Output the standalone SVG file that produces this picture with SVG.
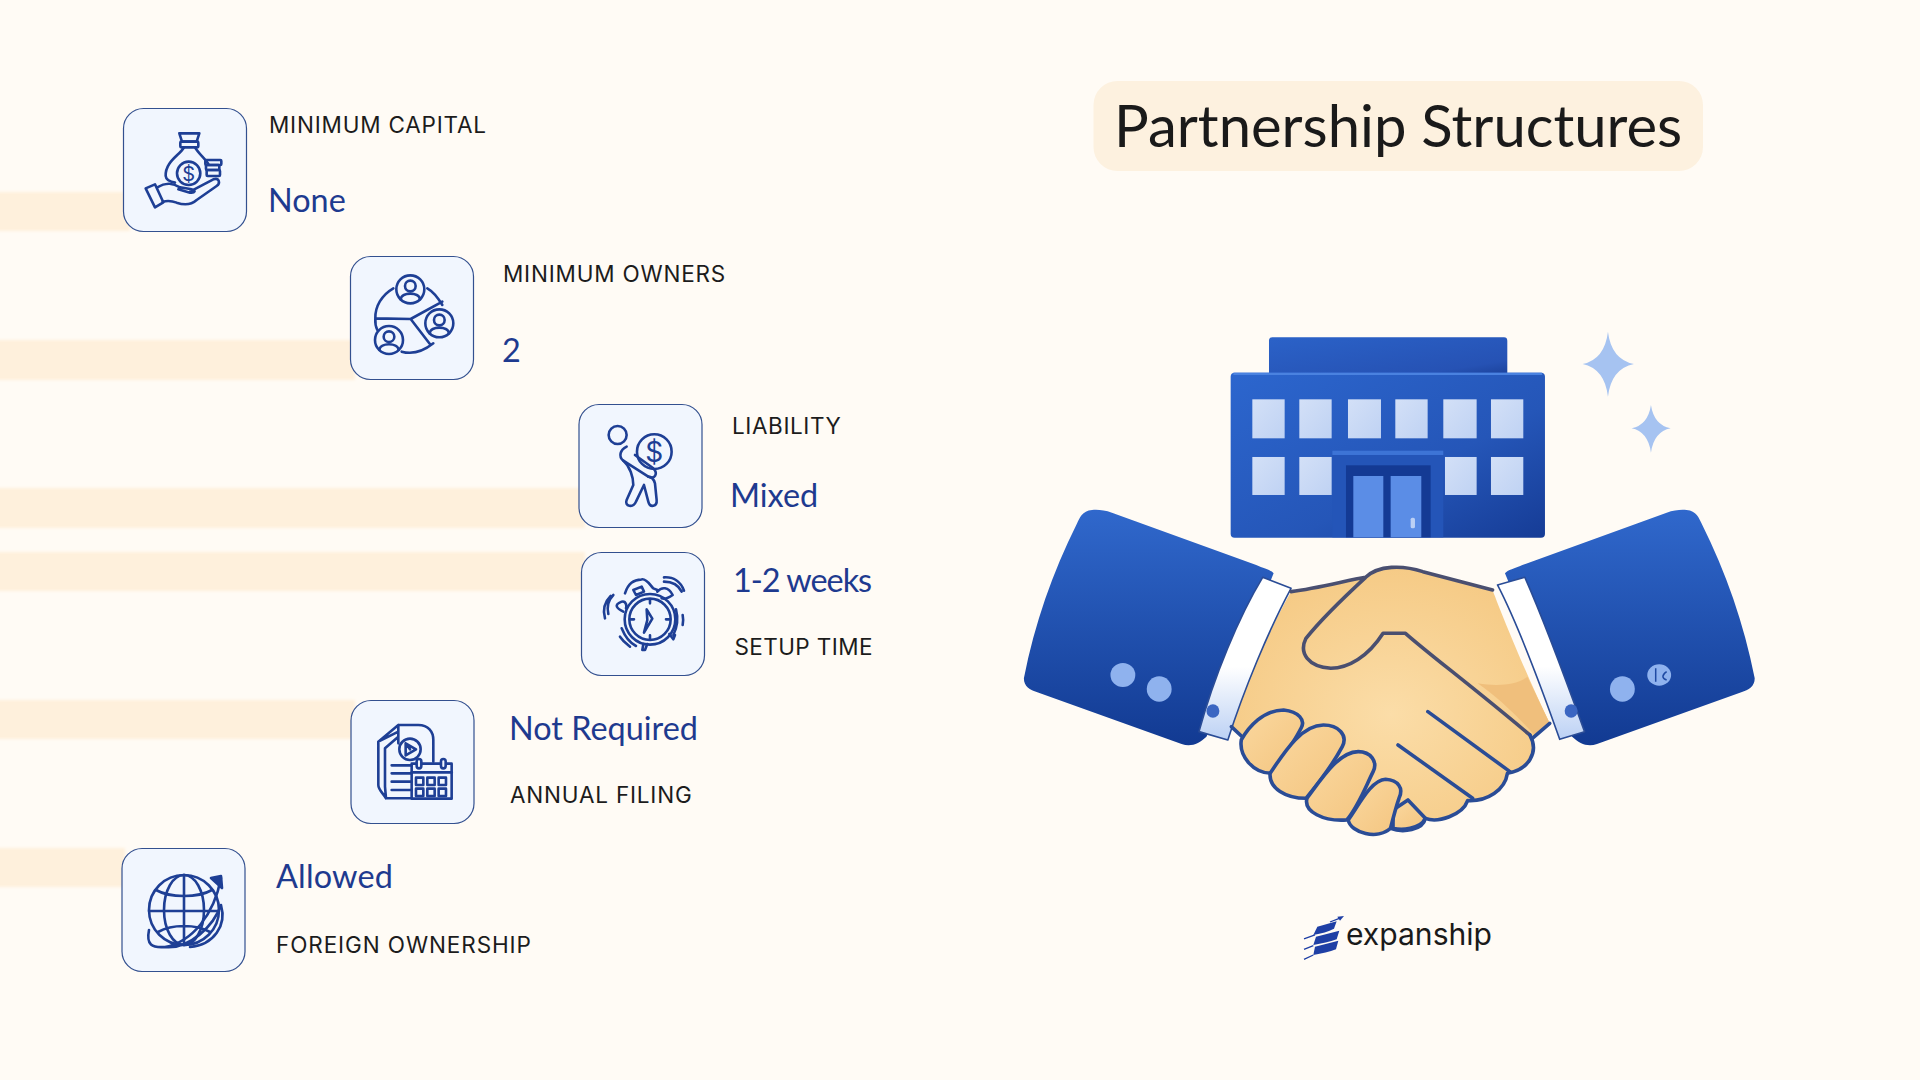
<svg xmlns="http://www.w3.org/2000/svg" width="1920" height="1080" viewBox="0 0 1920 1080">
<style>
.card{fill:#F1F6FE;stroke:#33508F;stroke-width:1.2}
.band{fill:#FEF0DC}
.lab{font-family:"Inter","Liberation Sans",sans-serif;font-size:22.5px;letter-spacing:.8px;fill:#1C1C1C}
.val{font-family:"Lato","Noto Sans",sans-serif;font-size:32.4px;fill:#1E3A8F}
.ic{fill:none;stroke:#1E3F95;stroke-width:2.6;stroke-linecap:round;stroke-linejoin:round}
.ic *{vector-effect:non-scaling-stroke}
.dol{font-family:"Inter","Liberation Sans",sans-serif;fill:#1E3F95;stroke:none}
.hs *{vector-effect:non-scaling-stroke}
.ln{fill:none;stroke:#4A4F70;stroke-width:3.6;stroke-linecap:round;stroke-linejoin:round}
.lb{fill:none;stroke:#2A4C96;stroke-width:3.6;stroke-linecap:round;stroke-linejoin:round}
.fg{fill:url(#finger);stroke:#2A4C96;stroke-width:3.6;stroke-linejoin:round}
.cf{fill:url(#cuff);stroke:#2A4C96;stroke-width:1.6;stroke-linejoin:round}
.win{fill:url(#win)}
.door{fill:#5B8DE6}
.star{fill:#A6C3F1}
.btn{fill:#8FB2EE}
.mark{fill:#1F3FA5}
</style>
<defs>
<linearGradient id="sleeve" x1="0" y1="0" x2="0" y2="1"><stop offset="0" stop-color="#3068CC"/><stop offset="1" stop-color="#123A92"/></linearGradient>
<linearGradient id="cuff" x1="0" y1="0" x2="0" y2="1"><stop offset="0" stop-color="#FFFFFF"/><stop offset=".55" stop-color="#FFFFFF"/><stop offset="1" stop-color="#BCD1F4"/></linearGradient>
<radialGradient id="skin" cx=".5" cy=".55" r=".6"><stop offset="0" stop-color="#FBDDA8"/><stop offset="1" stop-color="#F5C983"/></radialGradient>
<linearGradient id="finger" x1="0" y1="0" x2="1" y2="1"><stop offset="0" stop-color="#FAD89F"/><stop offset="1" stop-color="#F4C580"/></linearGradient>
<linearGradient id="bldg" x1="0" y1="0" x2="1" y2="1"><stop offset="0" stop-color="#2C66CE"/><stop offset=".6" stop-color="#2556B8"/><stop offset="1" stop-color="#163C96"/></linearGradient>
<linearGradient id="roof" x1="0" y1="0" x2="1" y2="1"><stop offset="0" stop-color="#2B62C8"/><stop offset=".8" stop-color="#2652B4"/><stop offset="1" stop-color="#1B4199"/></linearGradient>
<linearGradient id="win" x1="0" y1="0" x2="1" y2="1"><stop offset="0" stop-color="#D3E0F7"/><stop offset="1" stop-color="#BFD2F3"/></linearGradient>
<filter id="soft" x="-5%" y="-20%" width="110%" height="140%"><feGaussianBlur stdDeviation="1.5"/></filter>
</defs>
<rect width="1920" height="1080" fill="#FFFBF5"/>

<g id="bands" filter="url(#soft)">
<rect class="band" x="-5" y="192" width="135" height="39"/>
<rect class="band" x="-5" y="340" width="360" height="40"/>
<rect class="band" x="-5" y="488" width="590" height="40"/>
<rect class="band" x="-5" y="552" width="590" height="39"/>
<rect class="band" x="-5" y="700" width="360" height="39"/>
<rect class="band" x="-5" y="848" width="130" height="39"/>
</g>

<g id="title">
<rect x="1093.500" y="81" width="609.500" height="90" rx="24" fill="#FDF1DF"/>
<text x="1114" y="147" font-family="Lato,'Noto Sans',sans-serif" font-size="58" fill="#1A1A1A">Partnership Structures</text>
</g>

<g id="node-capital">
<rect class="card" x="123.500" y="108.500" width="123" height="123" rx="20"/>
<g class="ic" transform="translate(100 90) scale(.3333)">
<path d="M238 130H298L290 155H246Z"/><rect x="241" y="155" width="54" height="17" rx="3"/>
<path d="M252 172C240 195 195 215 197 258C198 268 205 275 225 278M285 172C295 190 315 205 325 222"/>
<circle cx="266" cy="250" r="35"/>
<rect x="316" y="210" width="48" height="15" rx="3"/><rect x="318" y="225" width="40" height="15" rx="3"/><rect x="320" y="240" width="40" height="18" rx="3"/>
<path d="M137 295L165 283L190 337L165 352Z"/>
<path d="M172 292C200 275 220 280 240 292L275 298C290 300 285 310 270 308L235 298M270 305L340 268C358 262 362 280 350 288L290 330C270 348 250 345 230 338C215 332 200 332 188 335"/>
<text class="dol" x="266" y="272" font-size="60" text-anchor="middle">$</text>
</g>
<text class="lab" x="269" y="133">MINIMUM CAPITAL</text>
<text class="val" x="268" y="212">None</text>
</g>

<g id="node-owners">
<rect class="card" x="350.500" y="256.500" width="123" height="123" rx="20"/>
<g class="ic" transform="translate(340 250) scale(.3333)">
<circle cx="211" cy="118" r="42"/><circle cx="298" cy="220" r="42"/><circle cx="147" cy="270" r="42"/>
<circle cx="211" cy="108" r="16"/><path d="M182 148C185 125 237 125 240 148"/>
<circle cx="298" cy="210" r="16"/><path d="M269 250C272 227 324 227 327 250"/>
<circle cx="147" cy="260" r="16"/><path d="M118 300C121 277 173 277 176 300"/>
<path d="M160 115C125 135 105 170 106 205C105 222 108 232 112 240M185 305C220 315 255 300 280 280M262 115C280 125 295 145 307 165M106 205L212 207L307 155M212 207L272 285"/>
</g>
<text class="lab" x="503" y="282">MINIMUM OWNERS</text>
<text class="val" x="502" y="362">2</text>
</g>

<g id="node-liability">
<rect class="card" x="579" y="404.500" width="123" height="123" rx="20"/>
<g class="ic" transform="translate(340 250) scale(.3333)">
<circle cx="833" cy="555" r="27"/><circle cx="943" cy="605" r="52"/>
<path d="M860 590C840 600 835 620 850 632L925 680C945 690 955 670 940 655L885 615"/>
<path d="M850 632C870 650 880 680 880 705L860 750C852 770 880 775 888 755L912 705L925 755C930 775 952 770 950 750L945 700C942 690 935 680 925 680"/>
<text class="dol" x="943" y="636" font-size="84" text-anchor="middle">$</text>
</g>
<text class="lab" x="732" y="434" style="letter-spacing:.6px">LIABILITY</text>
<text class="val" x="730" y="507">Mixed</text>
</g>

<g id="node-setup">
<rect class="card" x="581.500" y="552.500" width="123" height="123" rx="20"/>
<g class="ic" transform="translate(570 540) scale(.3333)">
<circle cx="240" cy="238" r="76"/><circle cx="240" cy="238" r="62"/>
<path d="M230 208L247 236L222 278L232 240ZM240 180V190M240 286V296M298 238H288M182 238H192"/>
<path d="M160 215C140 205 130 195 155 185C170 182 170 200 168 205M165 160C175 130 190 120 215 118C230 115 240 135 250 145L262 150M190 150L215 140L222 155L198 165ZM262 155C275 140 295 140 308 165C298 172 285 178 275 175"/>
<path d="M282 125C305 125 325 135 335 155M282 112C310 110 332 125 342 152M130 165C115 180 110 200 115 222M122 168C105 185 98 210 105 235M155 265C165 290 178 308 198 318M150 290C160 305 170 312 180 320M318 208C325 235 320 265 310 285M338 225C340 235 340 245 338 255"/>
<path d="M220 312L217 330H225L232 312M298 282L310 298L315 285"/>
</g>
<text class="val" x="733" y="592" style="letter-spacing:-1px">1-2 weeks</text>
<text class="lab" x="734.500" y="655" style="letter-spacing:.4px">SETUP TIME</text>
</g>

<g id="node-filing">
<rect class="card" x="351" y="700.500" width="123" height="123" rx="20"/>
<g class="ic" transform="translate(340 690) scale(.3333)">
<path d="M175 105H235C265 105 280 125 280 150V215M175 105L115 155V285C115 300 130 310 138 325H215M175 105V160M115 155L175 125M138 325L135 290V175L175 140"/>
<circle cx="210" cy="178" r="32"/><path d="M197 160L228 178L197 196ZM210 178L197 160"/>
<path d="M155 226H215M155 250H215M155 275H215M155 300H215"/>
<rect x="215" y="221" width="120" height="105"/>
<path d="M215 247H335"/>
<rect x="230" y="207" width="14" height="28" rx="7" fill="#F1F6FE"/><rect x="303" y="207" width="14" height="28" rx="7" fill="#F1F6FE"/>
<rect x="228" y="263" width="22" height="22"/><rect x="262" y="263" width="22" height="22"/><rect x="296" y="263" width="22" height="22"/>
<rect x="228" y="296" width="22" height="22"/><rect x="262" y="296" width="22" height="22"/><rect x="296" y="296" width="22" height="22"/>
</g>
<text class="val" x="509" y="740">Not Required</text>
<text class="lab" x="510" y="803">ANNUAL FILING</text>
</g>

<g id="node-foreign">
<rect class="card" x="122" y="848.500" width="123" height="123" rx="20"/>
<g class="ic">
<circle cx="184" cy="910" r="35"/>
<ellipse cx="184" cy="910" rx="20" ry="35"/>
<path d="M184 875V945M149 911H219M156 890C170 898 198 898 212 890M158 932C172 924 196 924 210 932"/>
<path d="M149 930C146 945 152 948 165 947C192 942 214 915 221 878M221 905C227 925 214 945 190 947M164 947C190 950 214 925 221 905"/>
<path d="M221 876L211 878L222 888Z" fill="#1E3F95"/>
</g>
<text class="val" x="276" y="888" style="letter-spacing:.2px">Allowed</text>
<text class="lab" x="276" y="953" style="letter-spacing:.9px">FOREIGN OWNERSHIP</text>
</g>

<g id="building" transform="translate(1200 320) scale(.3333)">
<rect x="207" y="52" width="715" height="115" rx="10" fill="url(#roof)"/>
<rect x="92" y="158" width="943" height="495" rx="12" fill="url(#bldg)"/>
<rect x="100" y="158" width="927" height="7" fill="#4A82E0"/>
<rect class="win" x="157" y="238" width="97" height="117"/><rect class="win" x="298" y="238" width="97" height="117"/><rect class="win" x="444" y="238" width="99" height="117"/><rect class="win" x="586" y="238" width="97" height="117"/><rect class="win" x="730" y="238" width="100" height="117"/><rect class="win" x="873" y="238" width="97" height="117"/>
<rect class="win" x="157" y="411" width="97" height="114"/><rect class="win" x="298" y="411" width="97" height="114"/><rect class="win" x="735" y="411" width="95" height="114"/><rect class="win" x="873" y="411" width="97" height="114"/>
<rect x="397" y="392" width="333" height="260" fill="#2455B8"/>
<rect x="397" y="392" width="333" height="13" fill="#3D74D6"/>
<rect x="438" y="436" width="254" height="216" fill="#143A94"/>
<rect class="door" x="460" y="468" width="90" height="184"/><rect class="door" x="572" y="468" width="92" height="184"/>
<rect x="632" y="593" width="13" height="32" rx="5" fill="#BBD0F5"/>
</g>

<g id="sparkles" transform="translate(1200 320) scale(.3333)">
<path class="star" d="M1224 35Q1234 118 1302 132Q1234 146 1224 230Q1214 146 1148 132Q1214 118 1224 35Z"/>
<path class="star" d="M1353 255Q1362 315 1412 325Q1362 335 1353 398Q1344 335 1295 325Q1344 315 1353 255Z"/>
</g>

<g id="handshake" class="hs" transform="translate(1000 490) scale(.4975 .3333)">
<path d="M185 60C165 62 160 85 155 100C105 250 70 400 48 565C48 590 60 600 75 607L365 762C385 772 400 760 415 740L550 250C545 240 530 235 515 225L225 68C210 60 195 58 185 60Z" fill="url(#sleeve)"/>
<path d="M1380 60C1400 62 1405 85 1410 100C1460 250 1495 400 1517 565C1517 590 1505 600 1490 607L1200 762C1180 772 1165 760 1150 740L1015 250C1020 240 1035 235 1050 225L1340 68C1355 60 1370 58 1380 60Z" fill="url(#sleeve)"/>
<path d="M585 305C640 295 700 270 740 262C760 225 810 225 850 245L990 300C1010 380 1060 560 1105 700L1070 745C1085 790 1060 840 1020 850C1015 900 980 935 940 932C930 975 880 1000 855 985C850 1020 810 1030 785 1015C760 1050 710 1030 697 990C650 1000 615 960 615 925C570 925 540 890 540 850C500 840 480 790 490 745L465 710C490 600 540 420 585 305Z" fill="url(#skin)"/>
<path d="M960 580C1000 620 1040 680 1075 735L1105 700L1060 560C1040 585 1000 590 960 580Z" fill="#F0BF7C"/>
<path class="cf" d="M528 262L585 295C540 420 490 600 458 750L400 725C430 560 480 380 528 262Z"/>
<path class="cf" d="M1000 285L1055 262C1090 380 1140 580 1175 725L1125 748C1090 600 1040 400 1000 285Z"/>
<ellipse cx="428" cy="663" rx="13" ry="20" fill="#3B66C2"/><ellipse cx="1148" cy="663" rx="13" ry="20" fill="#3B66C2"/>
<ellipse class="btn" cx="247" cy="555" rx="25" ry="36"/><ellipse class="btn" cx="320" cy="597" rx="25" ry="38"/>
<ellipse class="btn" cx="1251" cy="597" rx="25" ry="38"/><ellipse class="btn" cx="1325" cy="555" rx="24" ry="32"/>
<path d="M1318 535V575M1340 545C1330 555 1330 565 1340 570" fill="none" stroke="#1F4AA3" stroke-width="1.5"/>
<path class="ln" d="M585 305C640 295 700 270 735 262M990 300L850 245C810 225 760 225 735 262C700 310 650 380 615 445C600 490 620 530 665 535C700 535 740 500 770 430H815C860 490 950 590 1065 735"/>
<path class="lb" d="M1065 735C1085 790 1060 840 1020 850C1015 900 980 935 940 932C930 975 880 1000 855 985C850 1020 810 1030 785 1015M860 665L1025 845M800 765L950 925"/>
<path class="lb" d="M465 710L490 745"/><path class="lb" d="M1105 700L1070 745"/>
<path class="fg" d="M790 1015C805 1020 845 1020 855 985L820 930L790 960Z"/>
<path class="fg" d="M485 750C500 710 530 660 570 660C600 665 615 690 605 715C590 760 565 810 545 850C510 850 480 800 485 750Z"/>
<path class="fg" d="M543 850C570 790 605 705 650 705C680 705 700 735 688 770C670 820 640 880 615 925C575 925 540 895 543 850Z"/>
<path class="fg" d="M617 925C645 870 680 785 720 785C745 785 760 815 750 845C735 890 720 950 697 990C650 995 610 965 617 925Z"/>
<path class="fg" d="M700 990C720 950 745 870 775 868C800 870 812 895 802 925C795 955 790 985 785 1015C760 1050 705 1030 700 990Z"/>
</g>

<g id="logo">
<g transform="translate(1280 900) scale(.3333)">
<path class="mark" d="M112 80L170 64L162 86C145 95 125 100 100 105Z"/>
<path class="mark" d="M108 110L178 92L170 118C150 126 125 130 100 135Z"/>
<path class="mark" d="M105 140L175 122L168 148C150 156 125 160 100 165Z"/>
<path d="M72 117L105 105M72 148L100 137M72 178L100 165M150 66L178 55" stroke="#1F3FA5" stroke-width="4" fill="none"/>
<path class="mark" d="M192 48L172 50L180 62Z"/>
</g>
<text x="1346" y="945" font-family="Inter,'Liberation Sans',sans-serif" font-size="30" fill="#1A1A1A" textLength="146" lengthAdjust="spacingAndGlyphs">expanship</text>
</g>
</svg>
